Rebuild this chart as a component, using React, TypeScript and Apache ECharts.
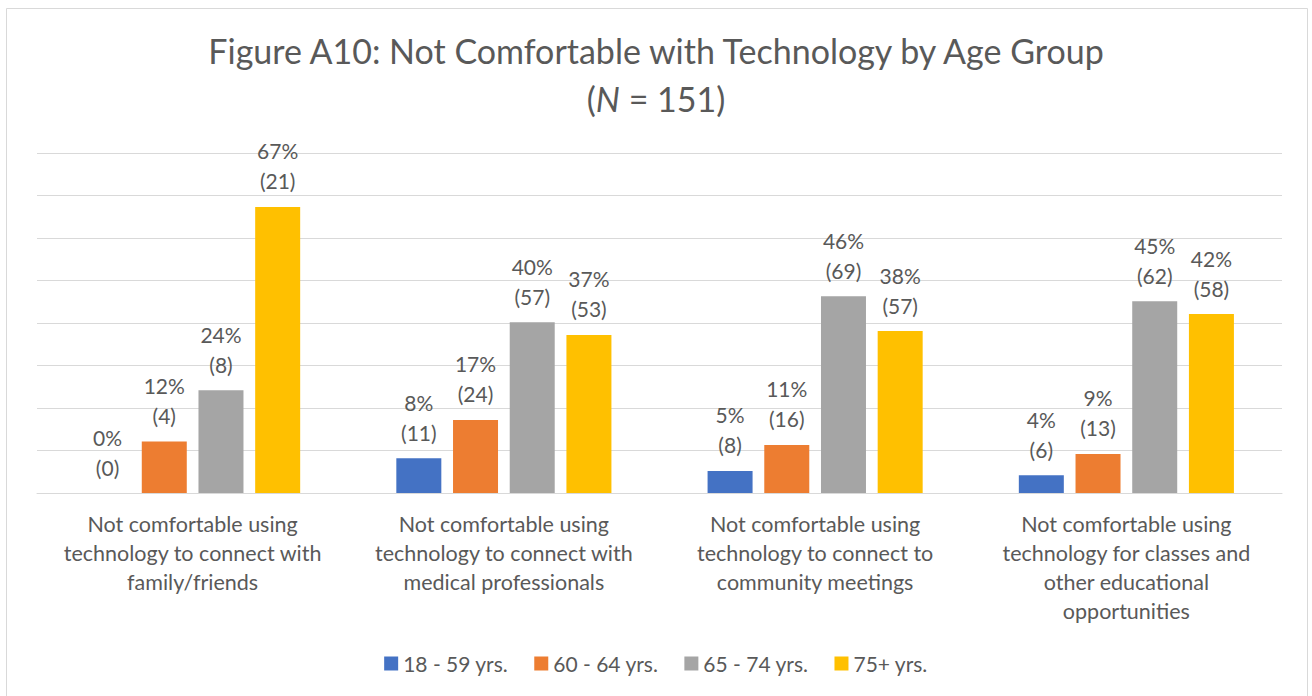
import React, { useEffect, useRef } from "react";
import * as echarts from "echarts";

const categories = [
  "Not comfortable using\ntechnology to connect with\nfamily/friends",
  "Not comfortable using\ntechnology to connect with\nmedical professionals",
  "Not comfortable using\ntechnology to connect to\ncommunity meetings",
  "Not comfortable using\ntechnology for classes and\nother educational\nopportunities",
];

const seriesNames = ["18 - 59 yrs.", "60 - 64 yrs.", "65 - 74 yrs.", "75+ yrs."];
const seriesColors = ["#4472C4", "#ED7D31", "#A5A5A5", "#FFC000"];

const pct18to59 = [0, 8.2, 5.2, 4.2];
const pct60to64 = [12.1, 17.2, 11.3, 9.2];
const pct65to74 = [24.2, 40.2, 46.3, 45.1];
const pct75plus = [67.3, 37.2, 38.1, 42.1];

const cnt18to59 = [0, 11, 8, 6];
const cnt60to64 = [4, 24, 16, 13];
const cnt65to74 = [8, 57, 69, 62];
const cnt75plus = [21, 53, 57, 58];

const yTicks = [0, 10, 20, 30, 40, 50, 60, 70, 80];

const FONT = "Lato";
const TEXT = "#595959";

export default function App() {
  const ref = useRef<HTMLDivElement>(null);

  useEffect(() => {
    if (!ref.current) return;
    const chart = echarts.init(ref.current, undefined, { renderer: "svg" });
    const pcts = [pct18to59, pct60to64, pct65to74, pct75plus];
    const cnts = [cnt18to59, cnt60to64, cnt65to74, cnt75plus];

    chart.setOption({
      animation: false,
      backgroundColor: "#ffffff",
      textStyle: { fontFamily: FONT },
      title: {
        text: "Figure A10: Not Comfortable with Technology by Age Group\n{a|(}{i|N}{a| = 151)}",
        left: "center",
        top: 21,
        textStyle: {
          fontFamily: FONT,
          fontSize: 34,
          fontWeight: "normal",
          color: TEXT,
          lineHeight: 48,
          rich: {
            a: { fontFamily: FONT, fontSize: 34, color: TEXT, lineHeight: 48 },
            i: { fontFamily: FONT, fontSize: 34, color: TEXT, lineHeight: 48, fontStyle: "italic" },
          },
        },
      },
      graphic: [
        {
          type: "rect",
          shape: { x: 6.5, y: 8.5, width: 1301, height: 700 },
          style: { fill: "none", stroke: "#d9d9d9", lineWidth: 1 },
          silent: true,
        },
      ],
      legend: {
        bottom: 17,
        left: "center",
        itemWidth: 14,
        itemHeight: 14,
        itemGap: 26,
        icon: "rect",
        textStyle: { fontFamily: FONT, fontSize: 21, color: TEXT },
        data: seriesNames,
      },
      grid: { left: 37, right: 30, top: 153, bottom: 203, containLabel: false },
      xAxis: {
        type: "category",
        data: categories,
        axisLine: { show: true, lineStyle: { color: "#d9d9d9", width: 1 } },
        axisTick: { show: false },
        axisLabel: {
          interval: 0,
          margin: 16,
          fontFamily: FONT,
          fontSize: 21.5,
          lineHeight: 29,
          color: TEXT,
          align: "center",
        },
      },
      yAxis: {
        type: "value",
        min: yTicks[0],
        max: yTicks[yTicks.length - 1],
        interval: 10,
        axisLine: { show: false },
        axisTick: { show: false },
        axisLabel: { show: false },
        splitLine: { lineStyle: { color: "#d9d9d9", width: 1 } },
      },
      series: seriesNames.map((name, si) => ({
        name,
        type: "bar",
        barWidth: 45,
        barGap: "26%",
        itemStyle: { color: seriesColors[si] },
        data: pcts[si],
        label: {
          show: true,
          position: "top",
          distance: 11,
          fontFamily: FONT,
          fontSize: 21,
          lineHeight: 30,
          color: TEXT,
          formatter: (p: any) => `${Math.round(p.value)}%\n(${cnts[si][p.dataIndex]})`,
        },
      })),
    });

    return () => chart.dispose();
  }, []);

  return (
    <div
      ref={ref}
      style={{ position: "fixed", left: 0, top: 0, width: 1312, height: 696 }}
    />
  );
}
